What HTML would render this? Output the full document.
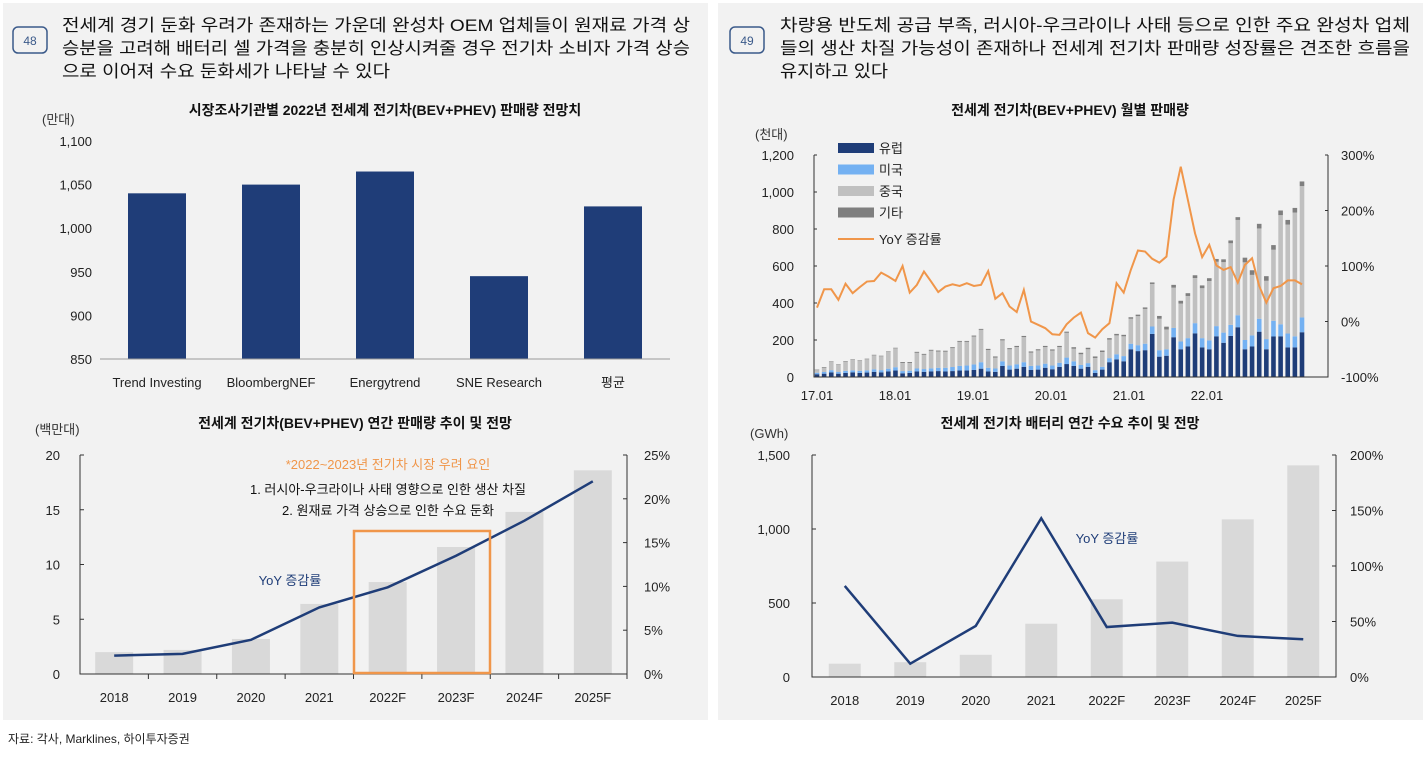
<!DOCTYPE html>
<html><head><meta charset="utf-8"><style>
body{margin:0;background:#fff;font-family:"Liberation Sans","Noto Sans CJK KR",sans-serif;}
svg text{font-family:"Liberation Sans","Noto Sans CJK KR",sans-serif;}
</style></head><body>
<svg id="s" width="1426" height="759" viewBox="0 0 1426 759" xmlns="http://www.w3.org/2000/svg">
<rect x="3" y="3" width="705" height="717" fill="#f2f2f2"/>
<rect x="718" y="3" width="705" height="717" fill="#f2f2f2"/>
<g>
<rect x="13" y="27" width="34" height="26" rx="5" fill="none" stroke="#3b5a8a" stroke-width="1.5"/>
<text x="30" y="45" font-size="12" fill="#3b5a8a" text-anchor="middle">48</text>
<text x="62" y="31" font-size="17" fill="#111" textLength="628" lengthAdjust="spacingAndGlyphs">전세계 경기 둔화 우려가 존재하는 가운데 완성차 OEM 업체들이 원재료 가격 상</text>
<text x="62" y="54" font-size="17" fill="#111" textLength="628" lengthAdjust="spacingAndGlyphs">승분을 고려해 배터리 셀 가격을 충분히 인상시켜줄 경우 전기차 소비자 가격 상승</text>
<text x="62" y="77" font-size="17" fill="#111" textLength="328" lengthAdjust="spacingAndGlyphs">으로 이어져 수요 둔화세가 나타날 수 있다</text>
</g>
<g>
<rect x="730" y="27" width="34" height="26" rx="5" fill="none" stroke="#3b5a8a" stroke-width="1.5"/>
<text x="747" y="45" font-size="12" fill="#3b5a8a" text-anchor="middle">49</text>
<text x="780" y="31" font-size="17" fill="#111" textLength="630" lengthAdjust="spacingAndGlyphs">차량용 반도체 공급 부족, 러시아-우크라이나 사태 등으로 인한 주요 완성차 업체</text>
<text x="780" y="54" font-size="17" fill="#111" textLength="630" lengthAdjust="spacingAndGlyphs">들의 생산 차질 가능성이 존재하나 전세계 전기차 판매량 성장률은 견조한 흐름을</text>
<text x="780" y="77" font-size="17" fill="#111" textLength="108" lengthAdjust="spacingAndGlyphs">유지하고 있다</text>
</g>
<text x="8" y="743" font-size="12" fill="#222">자료: 각사, Marklines, 하이투자증권</text>
<g id="c1"></g><g id="c2"></g><g id="c3"></g><g id="c4"></g>
</svg>
<script>
// Chart 1: 2022 forecasts by research firm
const c1Cats=["Trend Investing","BloombergNEF","Energytrend","SNE Research","평균"];
const c1Vals=[1040,1050,1065,945,1025];
const c1Ticks=[850,900,950,1000,1050,1100];
// Chart 2: annual EV sales
const c2Cats=["2018","2019","2020","2021","2022F","2023F","2024F","2025F"];
const c2Sales=[2.0,2.2,3.2,6.4,8.4,11.6,14.8,18.6];
const c2Yoy=[2.1,2.3,3.9,7.6,9.9,13.5,17.5,22.0];
const c2LTicks=[0,5,10,15,20];
const c2RTicks=[0,5,10,15,20,25];
// Chart 3: monthly EV sales
const c3Xlabels=["17.01","18.01","19.01","20.01","21.01","22.01"];
const c3Eu=[15,18,25,18,22,25,22,24,28,25,30,35,20,22,30,28,30,32,30,32,35,35,38,45,30,28,60,40,45,55,38,40,50,42,55,70,60,45,55,22,40,80,95,85,150,140,145,233,110,115,215,150,165,236,160,150,220,185,222,269,150,165,245,150,219,220,160,160,242];
const c3Us=[8,9,12,9,11,11,11,12,14,12,15,18,12,12,16,15,17,18,20,22,25,27,30,35,20,18,25,22,24,25,22,22,22,20,22,35,25,20,20,15,15,22,28,28,30,32,35,40,35,35,50,42,45,55,50,48,55,55,60,65,50,60,70,55,85,65,75,60,80];
const c3Cn=[14,24,44,38,50,56,54,60,75,75,90,102,44,42,85,77,95,88,87,102,130,128,151,175,96,59,113,88,93,136,72,82,90,81,85,134,68,58,75,66,80,100,102,107,135,157,188,230,170,107,218,205,228,244,270,321,348,381,441,515,420,327,488,315,384,590,589,669,710];
const c3Oth=[3,3,3,3,3,3,3,3,3,3,3,3,5,5,5,5,5,5,5,5,5,5,5,5,6,6,6,6,6,6,6,6,6,6,6,6,8,8,8,8,8,8,8,8,8,8,8,8,15,15,15,15,15,15,15,15,15,15,15,15,25,25,25,25,25,25,25,25,25];
const c3Yoy=[25,58,58,39,68,51,62,72,73,88,81,73,100,52,66,90,72,53,63,67,64,69,64,66,91,41,51,27,17,57,0,-6,-12,-23,-24,-5,7,16,-21,-29,-14,-3,69,52,93,128,126,113,106,117,220,279,219,159,116,138,101,93,98,70,102,114,64,34,60,64,74,74,67];
const c3LTicks=[0,200,400,600,800,1000,1200];
const c3RTicks=[-100,0,100,200,300];
// Chart 4: battery demand
const c4Cats=["2018","2019","2020","2021","2022F","2023F","2024F","2025F"];
const c4Gwh=[90,100,150,360,525,780,1065,1430];
const c4Yoy=[82,12,46,143,45,49,37,34];
const c4LTicks=[0,500,1000,1500];
const c4RTicks=[0,50,100,150,200];

const NS="http://www.w3.org/2000/svg";
function mk(p,tag,a,txt){const e=document.createElementNS(NS,tag);for(const k in a)e.setAttribute(k,a[k]);if(txt!==undefined)e.textContent=txt;p.appendChild(e);return e;}
const fmt=v=>v.toLocaleString("en-US");
const NAVY="#1f3d78",GRAY="#d9d9d9",ORANGE="#f0964a";

// ---- chart 1
(function(){const g=document.getElementById("c1");
const x0=100,x1=670,yT=141,yB=359,lo=850,hi=1100;
const y=v=>yB-(v-lo)/(hi-lo)*(yB-yT);const bw=(x1-x0)/c1Cats.length;
let t=mk(g,"text",{x:385,y:115,"font-size":14,"font-weight":"bold","text-anchor":"middle",fill:"#111"},"시장조사기관별 2022년 전세계 전기차(BEV+PHEV) 판매량 전망치");

t=mk(g,"text",{x:42,y:124,"font-size":13,fill:"#333"},"(만대)");
c1Ticks.forEach(v=>{const e=mk(g,"text",{x:x0-8,y:y(v)+5,"font-size":13,"text-anchor":"end",fill:"#222"},fmt(v));});
c1Cats.forEach((c,i)=>{const cx=x0+bw*(i+0.5);
const r=mk(g,"rect",{x:cx-29,y:y(c1Vals[i]),width:58,height:yB-y(c1Vals[i]),fill:NAVY});

const e=mk(g,"text",{x:cx,y:387,"font-size":13,"text-anchor":"middle",fill:"#222"},c);
});
const a=mk(g,"line",{x1:x0,y1:yB,x2:x1,y2:yB,stroke:"#999"});
})();

// ---- chart 2
(function(){const g=document.getElementById("c2");
const x0=80,x1=627,yT=455,yB=674;const bw=(x1-x0)/c2Cats.length;
const yl=v=>yB-v/20*(yB-yT),yr=v=>yB-v/25*(yB-yT);
let t=mk(g,"text",{x:355,y:428,"font-size":14,"font-weight":"bold","text-anchor":"middle",fill:"#111"},"전세계 전기차(BEV+PHEV) 연간 판매량 추이 및 전망");

t=mk(g,"text",{x:35,y:434,"font-size":13,fill:"#333"},"(백만대)");
c2LTicks.forEach(v=>{const e=mk(g,"text",{x:60,y:yl(v)+5,"font-size":13,"text-anchor":"end",fill:"#222"},v);
mk(g,"line",{x1:x0,y1:yl(v),x2:x0+4,y2:yl(v),stroke:"#333"});});
c2RTicks.forEach(v=>{const e=mk(g,"text",{x:x1+17,y:yr(v)+5,"font-size":13,fill:"#222"},v+"%");
mk(g,"line",{x1:x1-4,y1:yr(v),x2:x1,y2:yr(v),stroke:"#333"});});
let pts=[];
c2Cats.forEach((c,i)=>{const cx=x0+bw*(i+0.5);
const r=mk(g,"rect",{x:cx-19,y:yl(c2Sales[i]),width:38,height:yB-yl(c2Sales[i]),fill:GRAY});

const e=mk(g,"text",{x:cx,y:702,"font-size":13,"text-anchor":"middle",fill:"#222"},c);

mk(g,"line",{x1:x0+bw*(i+1),y1:yB,x2:x0+bw*(i+1),y2:yB+5,stroke:"#333"});
pts.push(cx+","+yr(c2Yoy[i]));});
let a=mk(g,"polyline",{points:pts.join(" "),fill:"none",stroke:NAVY,"stroke-width":2.5});
a=mk(g,"path",{d:`M${x0} ${yT}V${yB}H${x1}V${yT}`,fill:"none",stroke:"#333"});
a=mk(g,"rect",{x:354,y:531,width:136,height:142,fill:"none",stroke:ORANGE,"stroke-width":2.5});
a=mk(g,"text",{x:388,y:469,"font-size":13,"text-anchor":"middle",fill:ORANGE},"*2022~2023년 전기차 시장 우려 요인");
a=mk(g,"text",{x:388,y:494,"font-size":13,"text-anchor":"middle",fill:"#111"},"1. 러시아-우크라이나 사태 영향으로 인한 생산 차질");
a=mk(g,"text",{x:388,y:515,"font-size":13,"text-anchor":"middle",fill:"#111"},"2. 원재료 가격 상승으로 인한 수요 둔화");
a=mk(g,"text",{x:290,y:585,"font-size":13,"text-anchor":"middle",fill:NAVY},"YoY 증감률");
})();

// ---- chart 3
(function(){const g=document.getElementById("c3");
const x0=814,x1=1328,yT=155,yB=377,start=817,end=1302;
const step=(end-start)/(c3Eu.length-1);
const yl=v=>yB-v/1200*(yB-yT),yr=v=>yB-(v+100)/400*(yB-yT);
let t=mk(g,"text",{x:1070,y:115,"font-size":14,"font-weight":"bold","text-anchor":"middle",fill:"#111"},"전세계 전기차(BEV+PHEV) 월별 판매량");

t=mk(g,"text",{x:755,y:139,"font-size":13,fill:"#333"},"(천대)");
c3LTicks.forEach(v=>{const e=mk(g,"text",{x:x0-20,y:yl(v)+5,"font-size":13,"text-anchor":"end",fill:"#222"},fmt(v));
mk(g,"line",{x1:x0,y1:yl(v),x2:x0+3,y2:yl(v),stroke:"#333"});});
c3RTicks.forEach(v=>{const e=mk(g,"text",{x:x1+13,y:yr(v)+5,"font-size":13,fill:"#222"},v+"%");
mk(g,"line",{x1:x1-3,y1:yr(v),x2:x1,y2:yr(v),stroke:"#333"});});
let pts=[];
c3Eu.forEach((e,i)=>{const cx=start+i*step;let base=0;
[[c3Eu[i],NAVY,'bar-europe'],[c3Us[i],"#74b1f2",'bar-usa'],[c3Cn[i],"#c0c0c0",'bar-china'],[c3Oth[i],"#7f7f7f",'bar-other']].forEach(s=>{
const r=mk(g,"rect",{x:cx-2.3,y:yl(base+s[0]),width:4.6,height:yl(base)-yl(base+s[0]),fill:s[1]});
base+=s[0];});
pts.push(cx+","+yr(c3Yoy[i]));});
let a=mk(g,"polyline",{points:pts.join(" "),fill:"none",stroke:ORANGE,"stroke-width":2});
a=mk(g,"path",{d:`M${x0} ${yT}V${yB}H${x1}V${yT}`,fill:"none",stroke:"#333"});
c3Xlabels.forEach((l,i)=>{const x=start+i*78;const e=mk(g,"text",{x:x,y:400,"font-size":13,"text-anchor":"middle",fill:"#222"},l);
});
const leg=[["유럽",NAVY],["미국","#74b1f2"],["중국","#c0c0c0"],["기타","#7f7f7f"]];
leg.forEach((l,i)=>{const y=148+i*21.5;const r=mk(g,"rect",{x:838,y:y-5,width:36,height:10,fill:l[1]});

const e=mk(g,"text",{x:879,y:y+5,"font-size":13,fill:"#222"},l[0]);});
a=mk(g,"line",{x1:838,y1:239,x2:874,y2:239,stroke:ORANGE,"stroke-width":2});
a=mk(g,"text",{x:879,y:244,"font-size":13,fill:"#222"},"YoY 증감률");
})();

// ---- chart 4
(function(){const g=document.getElementById("c4");
const x0=812,x1=1336,yT=455,yB=677;const bw=(x1-x0)/c4Cats.length;
const yl=v=>yB-v/1500*(yB-yT),yr=v=>yB-v/200*(yB-yT);
let t=mk(g,"text",{x:1070,y:428,"font-size":14,"font-weight":"bold","text-anchor":"middle",fill:"#111"},"전세계 전기차 배터리 연간 수요 추이 및 전망");

t=mk(g,"text",{x:750,y:438,"font-size":13,fill:"#333"},"(GWh)");
c4LTicks.forEach(v=>{const e=mk(g,"text",{x:790,y:yl(v)+5,"font-size":13,"text-anchor":"end",fill:"#222"},fmt(v));
mk(g,"line",{x1:x0,y1:yl(v),x2:x0+4,y2:yl(v),stroke:"#333"});});
c4RTicks.forEach(v=>{const e=mk(g,"text",{x:x1+14,y:yr(v)+5,"font-size":13,fill:"#222"},v+"%");
mk(g,"line",{x1:x1-4,y1:yr(v),x2:x1,y2:yr(v),stroke:"#333"});});
let pts=[];
c4Cats.forEach((c,i)=>{const cx=x0+bw*(i+0.5);
const r=mk(g,"rect",{x:cx-16,y:yl(c4Gwh[i]),width:32,height:yB-yl(c4Gwh[i]),fill:GRAY});

const e=mk(g,"text",{x:cx,y:705,"font-size":13,"text-anchor":"middle",fill:"#222"},c);

pts.push(cx+","+yr(c4Yoy[i]));});
let a=mk(g,"polyline",{points:pts.join(" "),fill:"none",stroke:NAVY,"stroke-width":2.5});
a=mk(g,"path",{d:`M${x0} ${yT}V${yB}H${x1}V${yT}`,fill:"none",stroke:"#333"});
a=mk(g,"text",{x:1107,y:543,"font-size":13,"text-anchor":"middle",fill:NAVY},"YoY 증감률");
})();
</script>
</body></html>
